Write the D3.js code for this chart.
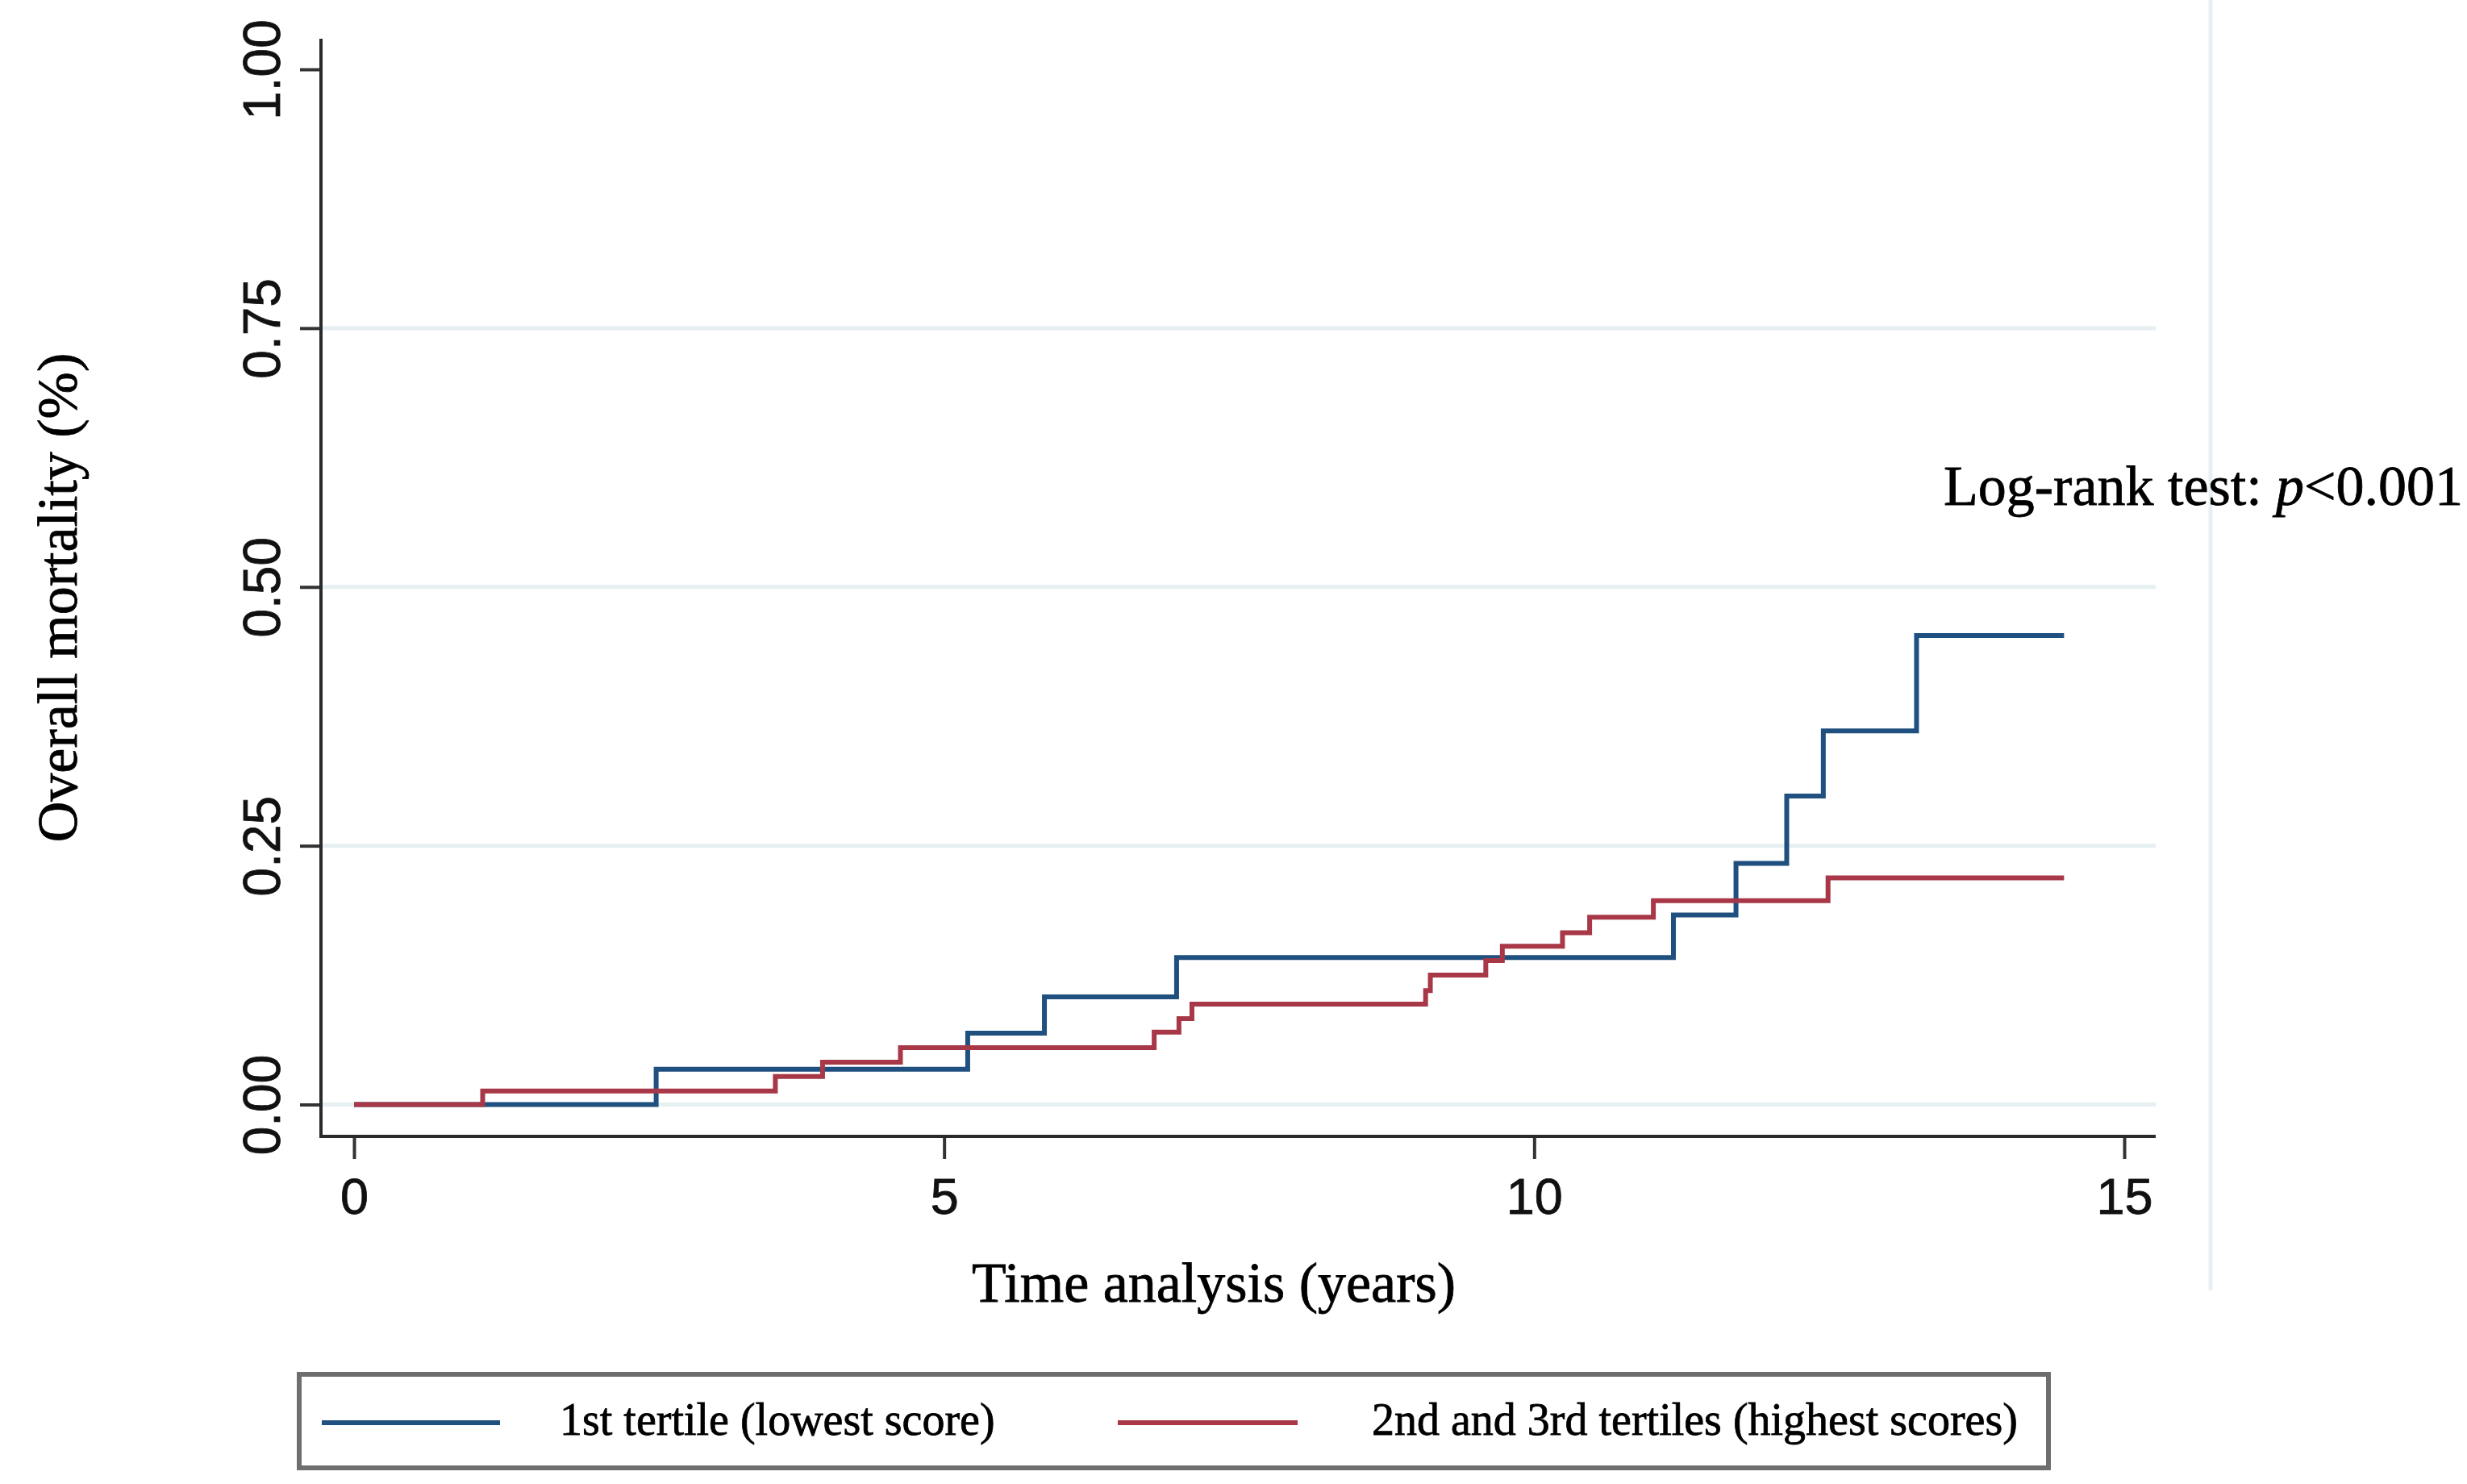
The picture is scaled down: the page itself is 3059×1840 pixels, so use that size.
<!DOCTYPE html>
<html>
<head>
<meta charset="utf-8">
<script src="https://cdn.jsdelivr.net/npm/d3@7"></script>
<style>
  body { margin: 0; background: #fff; }
  svg { display: block; }
  text { stroke: currentColor; stroke-width: 0.8px; }
</style>
</head>
<body>
<svg id="chart" width="3059" height="1840"></svg>
<script>
// step points (time in years, cumulative mortality)
const lowTimes = [0, 2.56, 5.20, 5.85, 6.97, 11.18, 11.71, 12.14, 12.45, 13.24, 14.49]
const lowValues = [0, 0.034, 0.069, 0.104, 0.142, 0.183, 0.233, 0.298, 0.361, 0.453, 0.453]

const highTimes = [0, 1.09, 3.57, 3.97, 4.63, 6.78, 6.99, 7.10, 9.08, 9.12, 9.59, 9.73, 10.24, 10.47, 11.01, 12.49, 14.49]
const highValues = [0, 0.013, 0.027, 0.041, 0.055, 0.070, 0.083, 0.097, 0.110, 0.125, 0.139, 0.153, 0.166, 0.181, 0.197, 0.219, 0.219]

const xTicks = [0, 5, 10, 15]
const yTicks = [0, 0.25, 0.50, 0.75, 1.00]
const gridValues = [0, 0.25, 0.50, 0.75]

const seriesNames = ['1st tertile (lowest score)', '2nd and 3rd tertiles (highest scores)']
const seriesColors = ['#1f5080', '#a83848']

const sans = '"Liberation Sans", Arial, sans-serif'
const serif = '"Liberation Serif", "Times New Roman", serif'

const frame = { left: 398, right: 2673, top: 48, bottom: 1409 }

const x = d3.scaleLinear().domain([0, 15]).range([439, 2634])
const y = d3.scaleLinear().domain([0, 1]).range([1369.5, 86])

const svg = d3.select('#chart')

// light outer region edge on the right
svg.append('line')
  .attr('x1', 2741).attr('x2', 2741)
  .attr('y1', 0).attr('y2', 1600)
  .attr('stroke', '#e8f0f3')
  .attr('stroke-width', 5)

// gridlines
svg.append('g')
  .attr('class', 'grid')
  .selectAll('line')
  .data(gridValues)
  .enter()
  .append('line')
  .attr('x1', frame.left).attr('x2', frame.right)
  .attr('y1', d => y(d)).attr('y2', d => y(d))
  .attr('stroke', '#e6eff1')
  .attr('stroke-width', 5)

// y axis
const yAxis = svg.append('g')
  .attr('transform', `translate(${frame.left},0)`)
  .call(d3.axisLeft(y).tickValues(yTicks).tickFormat(d3.format('.2f')).tickSize(26))
yAxis.select('.domain').remove()
yAxis.selectAll('.tick line').attr('stroke', '#333').attr('stroke-width', 4)
yAxis.selectAll('.tick text')
  .attr('x', null).attr('dy', null)
  .attr('transform', `translate(${347 - frame.left},0) rotate(-90)`)
  .attr('text-anchor', 'middle')
  .attr('fill', '#111')
  .style('color', '#111')
  .style('font-family', sans)
  .style('font-size', '64px')

// x axis
const xAxis = svg.append('g')
  .attr('transform', `translate(0,${frame.bottom})`)
  .call(d3.axisBottom(x).tickValues(xTicks).tickSize(28))
xAxis.select('.domain').remove()
xAxis.selectAll('.tick line').attr('stroke', '#333').attr('stroke-width', 4)
xAxis.selectAll('.tick text')
  .attr('y', 96).attr('dy', null)
  .attr('fill', '#111')
  .style('color', '#111')
  .style('font-family', sans)
  .style('font-size', '63px')

// axis lines
svg.append('path')
  .attr('d', `M${frame.left},${frame.top}V${frame.bottom}H${frame.right}`)
  .attr('fill', 'none')
  .attr('stroke', '#2a2a2a')
  .attr('stroke-width', 4)

// curves
const step = d3.line()
  .x(d => x(d[0]))
  .y(d => y(d[1]))
  .curve(d3.curveStepAfter)

const curves = [d3.zip(lowTimes, lowValues), d3.zip(highTimes, highValues)]

svg.append('g')
  .attr('class', 'curves')
  .selectAll('path')
  .data(curves)
  .enter()
  .append('path')
  .attr('d', step)
  .attr('fill', 'none')
  .attr('stroke', (d, i) => seriesColors[i])
  .attr('stroke-width', 6)

// titles
svg.append('text')
  .attr('transform', 'translate(95,741) rotate(-90)')
  .attr('text-anchor', 'middle')
  .style('font-family', serif)
  .style('font-size', '70px')
  .text('Overall mortality (%)')

svg.append('text')
  .attr('x', 1505).attr('y', 1614)
  .attr('text-anchor', 'middle')
  .style('font-family', serif)
  .style('font-size', '70px')
  .text('Time analysis (years)')

const note = svg.append('text')
  .attr('x', 2410).attr('y', 626)
  .style('font-family', serif)
  .style('font-size', '70px')
note.append('tspan').text('Log-rank test: ')
note.append('tspan').style('font-style', 'italic').text('p')
note.append('tspan').text('<0.001')

// legend
const legend = svg.append('g').attr('class', 'legend')
legend.append('rect')
  .attr('x', 371).attr('y', 1704)
  .attr('width', 2169).attr('height', 116)
  .attr('fill', '#fff')
  .attr('stroke', '#6e6e6e')
  .attr('stroke-width', 6)

const legendKeys = [
  { x1: 399, x2: 620, tx: 694 },
  { x1: 1386, x2: 1609, tx: 1701 }
]

legend.selectAll('line')
  .data(legendKeys)
  .enter()
  .append('line')
  .attr('x1', d => d.x1).attr('x2', d => d.x2)
  .attr('y1', 1764).attr('y2', 1764)
  .attr('stroke', (d, i) => seriesColors[i])
  .attr('stroke-width', 6)

legend.selectAll('text')
  .data(legendKeys)
  .enter()
  .append('text')
  .attr('x', d => d.tx).attr('y', 1779)
  .style('font-family', serif)
  .style('font-size', '56px')
  .text((d, i) => seriesNames[i])
</script>
</body>
</html>
